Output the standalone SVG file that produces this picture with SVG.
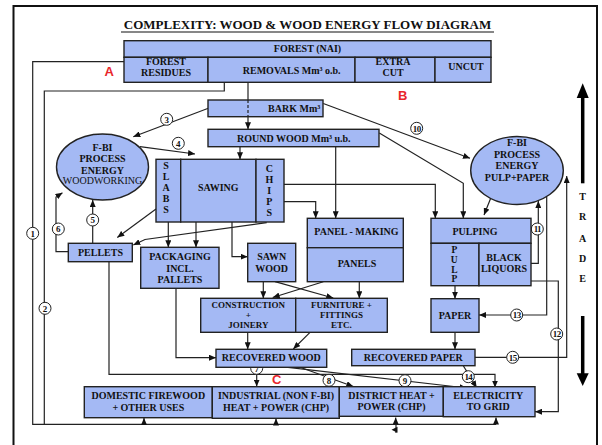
<svg xmlns="http://www.w3.org/2000/svg" width="602" height="445" viewBox="0 0 602 445">
<defs>
<style>
.bx{fill:#A4B9F4;stroke:#222;stroke-width:1.4}
.t{font-family:"Liberation Serif","Times New Roman",serif;font-weight:bold;font-size:10px;fill:#111;text-anchor:middle}
.s9{font-size:9px}
.tr{font-family:"Liberation Serif","Times New Roman",serif;font-size:10px;fill:#111;text-anchor:middle}
.c{fill:none;stroke:#222;stroke-width:1.2}
.a{marker-end:url(#ah)}
.lc{fill:#fff;stroke:#222;stroke-width:1}
.ln{font-family:"Liberation Serif","Times New Roman",serif;font-weight:bold;font-size:9px;fill:#111;text-anchor:middle}
.red{font-family:"Liberation Sans",Arial,sans-serif;font-weight:bold;font-size:13px;fill:#E8262B;text-anchor:middle}
</style>
<marker id="ah" viewBox="0 0 7 6" refX="7" refY="3" markerWidth="7" markerHeight="6" markerUnits="userSpaceOnUse" orient="auto">
<path d="M0,0 L7,3 L0,6 z" fill="#111"/>
</marker>
</defs>
<rect width="602" height="445" fill="#fff"/>
<path d="M13.5,445 V6 H597 V445" fill="none" stroke="#111" stroke-width="2"/>
<text class="t" x="307.5" y="29.3" style="font-size:13px">COMPLEXITY: WOOD &amp; WOOD ENERGY FLOW DIAGRAM</text>
<line x1="121" y1="32" x2="494" y2="32" stroke="#111" stroke-width="1.2"/>

<g id="connectors">
<path class="c" d="M124,61.7 H32.7 V424.3 H496"/>
<path class="c" d="M224.3,82.3 V91 H44.3 V424.3"/>
<path class="c a" d="M144,424.3 V418"/>
<path class="c a" d="M276,424.3 V418.5"/>
<path class="c a" d="M395.7,424.3 V417.5"/>
<path class="c a" d="M496,424.3 V417.5"/>
<path class="c" d="M396,424.3 V433"/>
<polygon points="391.5,429.8 397.5,426.8 397.5,432.8" fill="#111"/>
<path class="c" d="M248,82.3 V100"/>
<path class="c" d="M248,100 V116.7" stroke-dasharray="3,2"/>
<path class="c a" d="M248,116.7 V129.3"/>
<path class="c a" d="M208.3,108.3 L133.3,136.7"/>
<path class="c a" d="M323.3,103.5 L470,158.3"/>
<path class="c a" d="M140,146.7 L195,154"/>
<path class="c a" d="M240,146.7 V159.3"/>
<path class="c a" d="M335.7,146.7 V218.3"/>
<path class="c a" d="M379.3,133 L463.3,183.3 V218.3"/>
<path class="c a" d="M284,184.3 H435.3 V218.3"/>
<path class="c a" d="M284,201.7 H315.7 V218.3"/>
<path class="c a" d="M490.7,198.3 L484,215"/>
<path class="c a" d="M156,209 L117.3,237.5"/>
<path class="c a" d="M266.7,222.7 L145,239.5 L133.3,245"/>
<path class="c a" d="M168.3,222 V247.3"/>
<path class="c a" d="M196,222 V247.3"/>
<path class="c a" d="M232,222 V256.7 H247.7"/>
<path class="c a" d="M92.7,243.3 V200"/>
<path class="c a" d="M68.3,251.7 H56 V197 L62.5,192.8"/>
<path class="c a" d="M109,261.7 V374.3 H495 V387.5"/>
<path class="c a" d="M263.3,281.7 V298.3"/>
<path class="c a" d="M275,281.7 L333.3,298"/>
<path class="c a" d="M323.3,281.7 L272.7,297.5"/>
<path class="c a" d="M359.3,281.7 V298.3"/>
<path class="c a" d="M247.7,332.3 V349.3"/>
<path class="c a" d="M310,332.3 L293.3,349"/>
<path class="c a" d="M176,288.3 V357.7 H216"/>
<path class="c a" d="M256.7,367.3 V386.5"/>
<path class="c a" d="M300,367.3 L353.3,386.5"/>
<path class="c a" d="M288,367.3 L466.7,388"/>
<path class="c a" d="M463.3,365.7 L476.7,387.7"/>
<path class="c a" d="M455,332.3 V349.3"/>
<path class="c a" d="M455,285.7 V298.7"/>
<path class="c a" d="M531,263.3 H538.3 V201"/>
<path class="c a" d="M546.7,196.6 V315 H479"/>
<path class="c a" d="M531,281 H558.3 V411.7 H535"/>
<path class="c a" d="M475,357.3 H566.7 V176"/>
<g>
<circle class="lc" cx="32.7" cy="233.3" r="6"/><text class="ln" x="32.7" y="236.5">1</text>
<circle class="lc" cx="45" cy="308.3" r="6"/><text class="ln" x="45" y="311.5">2</text>
<circle class="lc" cx="166.7" cy="119.3" r="6"/><text class="ln" x="166.7" y="122.5">3</text>
<circle class="lc" cx="178.3" cy="143.3" r="6"/><text class="ln" x="178.3" y="146.5">4</text>
<circle class="lc" cx="92.7" cy="220" r="6"/><text class="ln" x="92.7" y="223.2">5</text>
<circle class="lc" cx="58.3" cy="229" r="6"/><text class="ln" x="58.3" y="232.2">6</text>
<circle class="lc" cx="256.7" cy="368.3" r="6"/><text class="ln" x="256.7" y="371.5">7</text>
<circle class="lc" cx="329" cy="380.3" r="6"/><text class="ln" x="329" y="383.5">8</text>
<circle class="lc" cx="405" cy="380.7" r="6"/><text class="ln" x="405" y="383.9">9</text>
<circle class="lc" cx="416.7" cy="128.3" r="6"/><text class="ln" x="416.7" y="131.5" letter-spacing="-0.6">10</text>
<circle class="lc" cx="537.3" cy="229" r="6"/><text class="ln" x="537.3" y="232.2" letter-spacing="-0.6">11</text>
<circle class="lc" cx="556.7" cy="334" r="6"/><text class="ln" x="556.7" y="337.2" letter-spacing="-0.6">12</text>
<circle class="lc" cx="516.7" cy="315" r="6"/><text class="ln" x="516.7" y="318.2" letter-spacing="-0.6">13</text>
<circle class="lc" cx="468.3" cy="376.7" r="6"/><text class="ln" x="468.3" y="379.9" letter-spacing="-0.6">14</text>
<circle class="lc" cx="512.7" cy="357.3" r="6"/><text class="ln" x="512.7" y="360.5" letter-spacing="-0.6">15</text>
</g>
</g>

<g id="forest">
<rect class="bx" x="124" y="40.7" width="367" height="16.6"/>
<rect class="bx" x="124" y="57.3" width="84" height="25"/>
<rect class="bx" x="208" y="57.3" width="147" height="25"/>
<rect class="bx" x="355" y="57.3" width="80" height="25"/>
<rect class="bx" x="435" y="57.3" width="56" height="25"/>
<text class="t" x="307.5" y="52.3">FOREST (NAI)</text>
<text class="t" x="166" y="65">FOREST</text>
<text class="t" x="166" y="76">RESIDUES</text>
<text class="t" x="291.7" y="74">REMOVALS Mm³ o.b.</text>
<text class="t" x="393" y="65">EXTRA</text>
<text class="t" x="393" y="76.3">CUT</text>
<text class="t" x="466" y="70">UNCUT</text>
</g>
<g id="bark">
<rect class="bx" x="208" y="100" width="115" height="16.7"/>
<line x1="248" y1="100" x2="248" y2="116.7" stroke="#222" stroke-width="1.2" stroke-dasharray="3,2"/>
<text class="t" x="294.2" y="111.6">BARK Mm³</text>
</g>
<g id="roundwood">
<rect class="bx" x="208" y="129.3" width="171" height="17.4"/>
<text class="t" x="293.8" y="141.6">ROUND WOOD Mm³ u.b.</text>
</g>
<g id="fbi-woodworking">
<ellipse class="bx" cx="102.5" cy="167" rx="46" ry="33"/>
<text class="t" x="102.5" y="151.3">F-BI</text>
<text class="t" x="102.5" y="162.3">PROCESS</text>
<text class="t" x="102.5" y="173.5">ENERGY</text>
<text class="tr" x="102.5" y="184.3">WOODWORKING</text>
</g>
<g id="fbi-pulppaper">
<ellipse class="bx" cx="517" cy="170.5" rx="46.3" ry="34"/>
<text class="t" x="517" y="146">F-BI</text>
<text class="t" x="517" y="157.5">PROCESS</text>
<text class="t" x="517" y="169">ENERGY</text>
<text class="t" x="517" y="180.5">PULP+PAPER</text>
</g>
<g id="sawing">
<rect class="bx" x="156" y="159.3" width="24.7" height="62.7"/>
<rect class="bx" x="180.7" y="159.3" width="75.3" height="62.7"/>
<rect class="bx" x="256" y="159.3" width="28" height="62.7"/>
<text class="t" x="218.3" y="190.6">SAWING</text>
<text class="t" x="166" y="169.3">S</text><text class="t" x="166" y="180.3">L</text><text class="t" x="166" y="191.3">A</text><text class="t" x="166" y="202.3">B</text><text class="t" x="166" y="213.3">S</text>
<text class="t" x="269.3" y="171.6">C</text><text class="t" x="269.3" y="182.7">H</text><text class="t" x="269.3" y="193.8">I</text><text class="t" x="269.3" y="204.9">P</text><text class="t" x="269.3" y="216">S</text>
</g>
<g id="pellets">
<rect class="bx" x="68.3" y="243.3" width="64" height="18.4"/>
<text class="t" x="100.5" y="255.8">PELLETS</text>
</g>
<g id="packaging">
<rect class="bx" x="140.7" y="247.3" width="78.3" height="41"/>
<text class="t" x="180" y="260">PACKAGING</text>
<text class="t" x="180" y="271.6">INCL.</text>
<text class="t" x="180" y="282.6">PALLETS</text>
</g>
<g id="sawnwood">
<rect class="bx" x="247.7" y="243.3" width="48" height="38.4"/>
<text class="t" x="271.7" y="260">SAWN</text>
<text class="t" x="271.7" y="271.6">WOOD</text>
</g>
<g id="panels">
<rect class="bx" x="307.3" y="218.3" width="96" height="29.4"/>
<rect class="bx" x="307.3" y="247.7" width="96" height="34"/>
<text class="t" x="356.5" y="235">PANEL - MAKING</text>
<text class="t" x="357" y="267.3">PANELS</text>
</g>
<g id="pulping">
<rect class="bx" x="431" y="218.3" width="100" height="25"/>
<rect class="bx" x="431" y="243.3" width="48" height="42.4"/>
<rect class="bx" x="479" y="243.3" width="52" height="42.4"/>
<text class="t" x="475" y="235">PULPING</text>
<text class="t" x="454.3" y="253.3" style="font-size:9.5px">P</text><text class="t" x="454.3" y="263" style="font-size:9.5px">U</text><text class="t" x="454.3" y="272.6" style="font-size:9.5px">L</text><text class="t" x="454.3" y="282.3" style="font-size:9.5px">P</text>
<text class="t" x="504" y="260.6">BLACK</text>
<text class="t" x="504" y="271.6">LIQUORS</text>
</g>
<g id="paper">
<rect class="bx" x="431" y="298.7" width="48" height="33.6"/>
<text class="t" x="455" y="319">PAPER</text>
</g>
<g id="construction">
<rect class="bx" x="200.7" y="298.3" width="95" height="34"/>
<text class="t s9" x="248.3" y="307.5">CONSTRUCTION</text>
<text class="t s9" x="248.3" y="317.8">+</text>
<text class="t s9" x="248.3" y="328.1">JOINERY</text>
</g>
<g id="furniture">
<rect class="bx" x="295.7" y="298.3" width="91.6" height="34"/>
<text class="t s9" x="341.5" y="307.5">FURNITURE +</text>
<text class="t s9" x="341.5" y="317.8">FITTINGS</text>
<text class="t s9" x="341.5" y="328.1">ETC.</text>
</g>
<g id="recoveredwood">
<rect class="bx" x="216" y="349.3" width="110.7" height="18"/>
<text class="t" x="271.3" y="361.3">RECOVERED WOOD</text>
</g>
<g id="recoveredpaper">
<rect class="bx" x="351.7" y="349.3" width="123.3" height="16.4"/>
<text class="t" x="413.3" y="360.8">RECOVERED PAPER</text>
</g>
<g id="domestic">
<rect class="bx" x="84.3" y="386.7" width="128" height="31"/>
<text class="t" x="148.3" y="399.3">DOMESTIC FIREWOOD</text>
<text class="t" x="148.3" y="410.6">+ OTHER USES</text>
</g>
<g id="industrial">
<rect class="bx" x="212.3" y="386.7" width="127" height="31.6"/>
<text class="t" x="276" y="399.3">INDUSTRIAL (NON F-BI)</text>
<text class="t" x="276" y="410.6">HEAT + POWER (CHP)</text>
</g>
<g id="district">
<rect class="bx" x="339.3" y="386.7" width="104" height="29.6"/>
<text class="t" x="391.5" y="399">DISTRICT HEAT +</text>
<text class="t" x="391.5" y="409.5">POWER (CHP)</text>
</g>
<g id="electricity">
<rect class="bx" x="443.3" y="386.7" width="91.7" height="30"/>
<text class="t" x="488.3" y="399.3">ELECTRICITY</text>
<text class="t" x="488.3" y="410.3">TO GRID</text>
</g>
<g id="trade">
<line x1="582.7" y1="96" x2="582.7" y2="183.3" stroke="#000" stroke-width="3.5"/>
<polygon points="582.7,83.3 576.7,98 588.7,98" fill="#000"/>
<line x1="582.7" y1="316" x2="582.7" y2="375" stroke="#000" stroke-width="3.5"/>
<polygon points="576.7,373.3 588.7,373.3 582.7,386" fill="#000"/>
<text class="t" x="582.7" y="200">T</text>
<text class="t" x="582.7" y="220.3">R</text>
<text class="t" x="582.7" y="241.6">A</text>
<text class="t" x="582.7" y="261.8">D</text>
<text class="t" x="582.7" y="281.8">E</text>
</g>
<text class="red" x="109.3" y="75.7">A</text>
<text class="red" x="402.7" y="99.7">B</text>
<text class="red" x="276.7" y="383.7">C</text>
</svg>
